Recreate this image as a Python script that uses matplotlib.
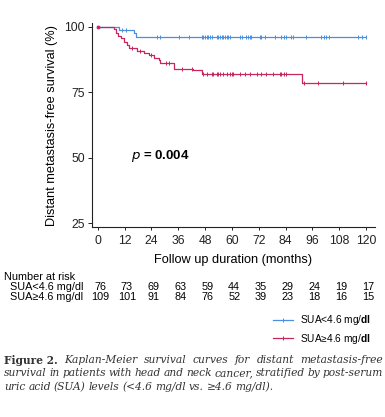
import matplotlib
matplotlib.use("Agg")
import matplotlib.pyplot as plt
from matplotlib.lines import Line2D
import matplotlib.transforms as mtransforms

plt.rcParams["font.family"] = ["Liberation Sans", "DejaVu Sans"]
plt.rcParams["mathtext.fontset"] = "custom"
plt.rcParams["mathtext.rm"] = "Liberation Sans"
plt.rcParams["mathtext.bf"] = "Liberation Sans:bold"

BLUE = "#4a8fe0"
RED = "#c8265c"

# Kaplan-Meier steps (months, survival %)
low_times = [0, 9.5, 16.1, 16.9, 120]
low_surv = [100, 98.7, 97.4, 95.9, 95.9]
low_censor = [10.9, 12.4, 26.5, 27.6, 36.1, 40.6, 46.5, 47.2, 48.0, 48.7, 49.5,
              50.2, 51.0, 53.2, 53.9, 54.7, 55.4, 56.1, 56.9, 57.6, 58.4, 59.1,
              63.6, 64.3, 66.5, 67.2, 68.0, 68.7, 72.4, 73.1, 74.7, 79.1, 82.1,
              83.1, 84.3, 86.5, 87.2, 93.2, 99.9, 101.3, 102.1, 103.5, 116.4,
              118.4, 120]

high_times = [0, 7.3, 8.3, 9.0, 10.2, 11.6, 12.9, 13.9, 17.6, 20.6, 22.8, 25.0,
              27.3, 28.0, 34.0, 42.7, 46.5, 91.5, 120]
high_surv = [100, 99.0, 97.6, 96.6, 95.5, 94.3, 93.0, 91.7, 90.7, 89.8, 89.2,
             88.2, 87.3, 86.3, 83.9, 83.3, 82.0, 78.4, 78.4]
high_censor = [15.5, 19.0, 24.0, 30.5, 32.0, 37.6, 42.1, 47.2, 48.8, 51.0, 51.7,
               53.2, 53.9, 54.7, 56.1, 57.6, 59.1, 59.9, 60.6, 63.6, 65.8, 68.0,
               71.0, 73.2, 75.4, 78.4, 81.3, 82.1, 83.1, 84.0, 92.4, 98.4, 109.5,
               120]

risk_months = [0, 12, 24, 36, 48, 60, 72, 84, 96, 108, 120]
risk_low = [76, 73, 69, 63, 59, 44, 35, 29, 24, 19, 17]
risk_high = [109, 101, 91, 84, 76, 52, 39, 23, 18, 16, 15]

W, H = 385, 417


def step_value(times, surv, t):
    val = surv[0]
    for tt, s in zip(times, surv):
        if tt <= t:
            val = s
    return val


fig = plt.figure(figsize=(W / 100, H / 100), dpi=100)
ax = fig.add_axes([92 / W, 1 - 227 / H, (375 - 92) / W, (227 - 22.7) / H])

for times, surv, cens, col in [(low_times, low_surv, low_censor, BLUE),
                               (high_times, high_surv, high_censor, RED)]:
    ax.plot(times, surv, drawstyle="steps-post", color=col, lw=0.9)
    ax.plot(cens, [step_value(times, surv, c) for c in cens], ls="none",
            marker="|", ms=3.5, mew=0.7, color=col)
    ax.plot([0], [100], ls="none", marker="s", ms=1.5, color=col)

ax.set_xlim(-2.6, 124)
ax.set_ylim(23.55, 101.5)
ax.set_xticks(risk_months)
ax.set_yticks([25, 50, 75, 100])
ax.tick_params(labelsize=8.7, length=3, width=0.7, pad=2, colors="#222222")
ax.tick_params(axis="x", length=2, pad=4)
for s in ["top", "right"]:
    ax.spines[s].set_visible(False)
for s in ["left", "bottom"]:
    ax.spines[s].set_linewidth(0.8)
    ax.spines[s].set_color("#222222")

ax.text(14.7, 50.8, r"$\mathbf{\it{p}}$ = 0.004", fontsize=9.5,
        fontweight="bold", va="center", ha="left")

fig.text(52 / W, 1 - 126 / H, "Distant metastasis-free survival (%)",
         rotation=90, ha="center", va="center", fontsize=9.2)
fig.text(233 / W, 1 - 260 / H, "Follow up duration (months)",
         ha="center", va="center", fontsize=9.2)

# number at risk table
fs_risk = 7.8
fig.text(4 / W, 1 - 277 / H, "Number at risk", ha="left", va="center",
         fontsize=fs_risk)
fig.text(10 / W, 1 - 287 / H, "SUA<4.6 mg/dl", ha="left", va="center",
         fontsize=fs_risk)
fig.text(10 / W, 1 - 297 / H, "SUA\u22654.6 mg/dl", ha="left", va="center",
         fontsize=fs_risk)
trans = mtransforms.blended_transform_factory(ax.transData, fig.transFigure)
for m, a, b in zip(risk_months, risk_low, risk_high):
    ax.text(m + 1.0, 1 - 287 / H, str(a), transform=trans, ha="center",
            va="center", fontsize=fs_risk)
    ax.text(m + 1.0, 1 - 297 / H, str(b), transform=trans, ha="center",
            va="center", fontsize=fs_risk)

# legend
handles = [Line2D([], [], color=BLUE, lw=0.9, marker="|", ms=3, mew=0.7),
           Line2D([], [], color=RED, lw=0.9, marker="|", ms=3, mew=0.7)]
labels = [r"SUA<4.6 mg/$\mathbf{dl}$", "SUA\u22654.6 mg/" + r"$\mathbf{dl}$"]
fig.legend(handles, labels, loc="center left",
           bbox_to_anchor=(268 / W, 1 - 329.5 / H), frameon=False, fontsize=7.3,
           handlelength=2.0, handletextpad=0.7, labelspacing=0.4,
           borderpad=0)

# caption, justified
cap_lines = [
    [("Figure 2.", "normal", "bold"), ("Kaplan-Meier", "italic", "normal"),
     ("survival", "italic", "normal"), ("curves", "italic", "normal"),
     ("for", "italic", "normal"), ("distant", "italic", "normal"),
     ("metastasis-free", "italic", "normal")],
    [(w, "italic", "normal") for w in
     "survival in patients with head and neck cancer, stratified by post-serum".split()],
    [(w, "italic", "normal") for w in
     "uric acid (SUA) levels (<4.6 mg/dl vs. \u22654.6 mg/dl).".split()],
]
cap_y = [360, 373, 386.7]
x0, x1 = 4, 383
fig.canvas.draw()
renderer = fig.canvas.get_renderer()
for li, (words, yy) in enumerate(zip(cap_lines, cap_y)):
    texts = []
    for w, style, weight in words:
        t = fig.text(0, 1 - yy / H, w, fontsize=7.7, family="DejaVu Serif",
                     style=style, fontweight=weight, va="center", ha="left",
                     color="#333333")
        texts.append(t)
    widths = [t.get_window_extent(renderer).width for t in texts]
    if li < len(cap_lines) - 1:
        gap = (x1 - x0 - sum(widths)) / (len(widths) - 1)
    else:
        gap = 3.0
    x = x0
    for t, wd in zip(texts, widths):
        t.set_x(x / W)
        x += wd + gap

fig.savefig("out.png", dpi=100)
